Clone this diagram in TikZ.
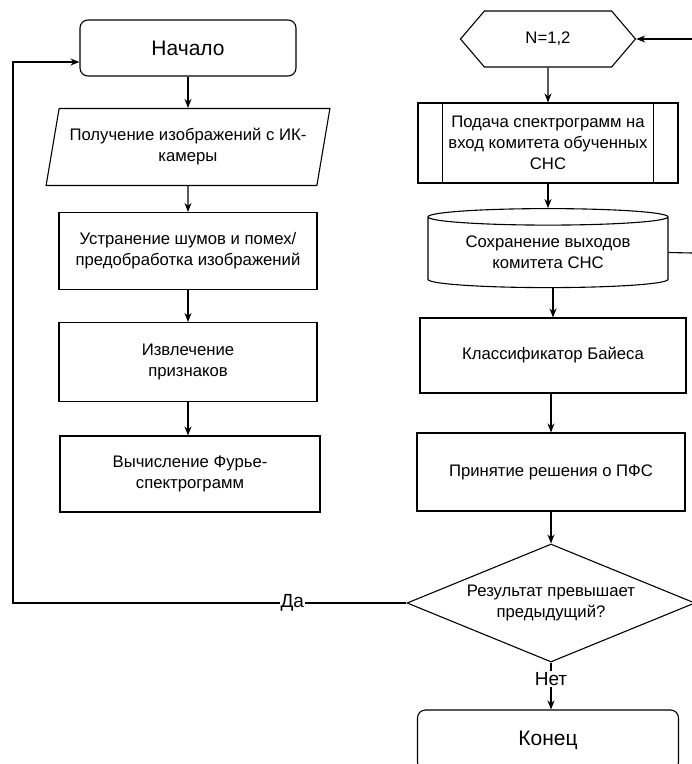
\documentclass[tikz,border=0pt]{standalone}
\usepackage{fontspec}
\setmainfont{Liberation Sans}
\usetikzlibrary{positioning, arrows.meta, shapes.geometric, shapes.symbols}

\begin{document}
\begin{tikzpicture}[x=1pt, y=-1pt,
    font=\fontsize{16.7}{21}\selectfont,
    base/.style={draw, line width=1.1pt, align=center, inner sep=0pt},
    box/.style={base, rectangle, minimum width=258pt, minimum height=77pt},
    term/.style={base, rectangle, rounded corners=8pt, minimum width=216pt, minimum height=56pt,
        font=\fontsize{21}{25}\selectfont},
    io/.style={base, trapezium, trapezium left angle=72, trapezium right angle=108,
        trapezium stretches=true, minimum width=284pt, minimum height=77pt},
    loopbox/.style={base, signal, signal to=west and east, signal pointer angle=99,
        minimum width=175pt, minimum height=56pt},
    store/.style={base, cylinder, shape border rotate=90, aspect=0.1,
        minimum width=240pt, minimum height=79pt},
    decide/.style={base, diamond, aspect=2.44, minimum width=288pt, minimum height=118pt},
    lbl/.style={fill=white, inner sep=1pt, font=\fontsize{19}{22}\selectfont},
    line/.style={line width=1.1pt},
    arr/.style={-{Stealth[length=9pt, width=7pt]}, line width=1.1pt}
]
\useasboundingbox (0,0) rectangle (692,764);

% left column
\node[term] (start) at (188,48) {Начало};
\node[io] (input) at (188,147) {Получение изображений с ИК-\\камеры};
\node[box] (denoise) at (188,251) {Устранение шумов и помех/\\предобработка изображений};
\node[box, minimum height=79pt] (feat) at (188,362) {Извлечение\\признаков};
\node[box, minimum width=260pt, minimum height=76pt] (fourier) at (190,474) {Вычисление Фурье-\\спектрограмм};

% right column
\node[loopbox] (loop) at (548,39) {N=1,2};
\node[box, minimum width=260pt, minimum height=80pt] (feed) at (548,143)
    {Подача спектрограмм на\\вход комитета обученных\\СНС};
\node[store] (save) at (548,252.5) {Сохранение выходов\\комитета СНС};
\node[box, minimum width=266pt, minimum height=75pt] (bayes) at (553,355.5) {Классификатор Байеса};
\node[box, minimum width=268pt, minimum height=78pt] (pfs) at (551,472) {Принятие решения о ПФС};
\node[decide] (check) at (551,603) {Результат превышает\\предыдущий?};
\node[term, minimum width=261pt, minimum height=60pt] (stop) at (548,740) {Конец};

\coordinate (loopin) at (692,39);
\coordinate (saveout) at (692,253);
\coordinate (back) at (13,603);

\draw[line] ([xshift=25pt]feed.north west) -- ([xshift=25pt]feed.south west);
\draw[line] ([xshift=-25pt]feed.north east) -- ([xshift=-25pt]feed.south east);

\draw[arr] (start) -- (input); \draw[arr] (input) -- (denoise);
\draw[arr] (denoise) -- (feat); \draw[arr] (feat.south) -- (feat.south |- fourier.north);
\draw[arr] (loopin) -- (loop.east);
\draw[arr] (loop) -- (feed); \draw[arr] (feed) -- (save);
\draw[line] (save.east) -- (saveout);
\draw[arr] (save.south -| bayes.north) -- (bayes.north);
\draw[arr] (bayes.south -| pfs.north) -- (pfs.north);
\draw[arr] (pfs) -- (check);
\draw[arr] (check.south) -- node[lbl, pos=0.35] {Нет} (check.south |- stop.north);
\draw[arr] (check.west) -- node[lbl, pos=0.29] {Да} (back) |- ([yshift=-14pt]start.west);
\end{tikzpicture}
\end{document}
